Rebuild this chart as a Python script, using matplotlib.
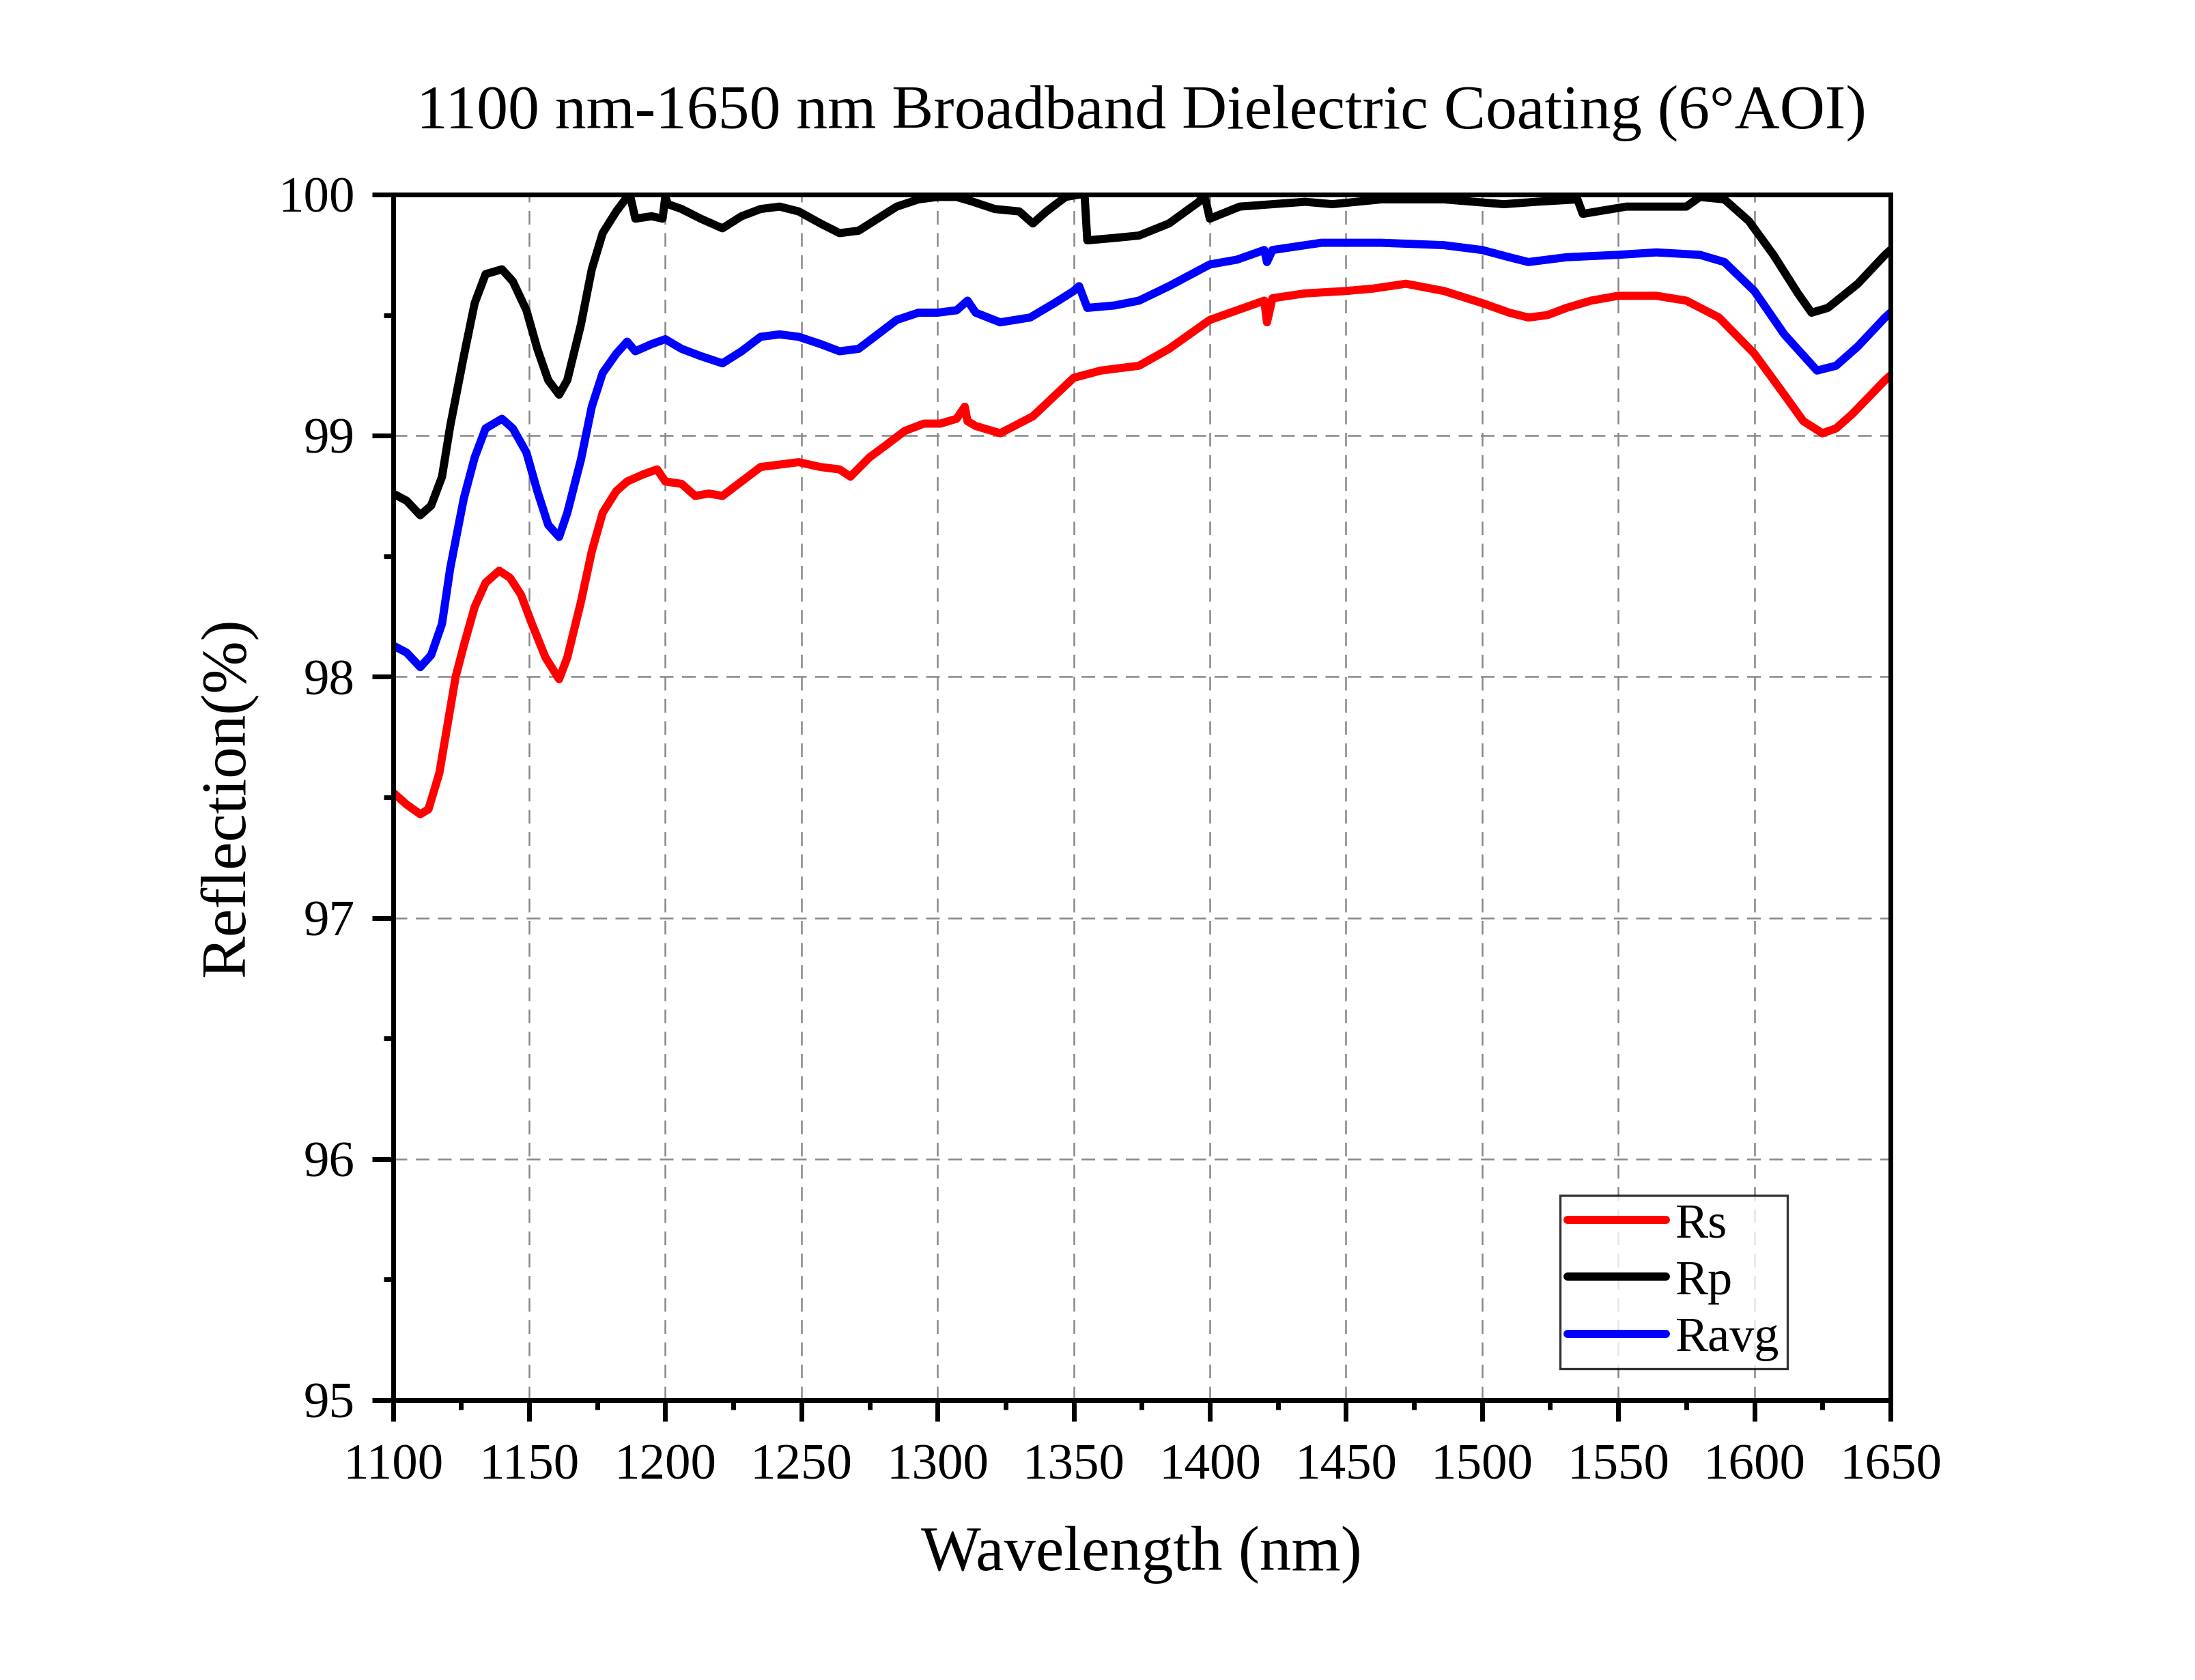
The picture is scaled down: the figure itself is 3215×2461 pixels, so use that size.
import matplotlib
matplotlib.use("Agg")
import matplotlib.pyplot as plt
from matplotlib.ticker import MultipleLocator

plt.rcParams['font.family'] = ['Liberation Serif', 'DejaVu Serif']

# data (wavelength in nm, reflection in %)
wl_rs = [1100, 1105, 1110, 1113, 1117, 1120, 1123, 1126, 1130, 1134, 1139, 1143, 1147,
         1151, 1156, 1161, 1164, 1169, 1173, 1177, 1182, 1186, 1192, 1197, 1200, 1206,
         1211, 1216, 1221, 1228, 1235, 1242, 1249, 1257, 1264, 1268, 1275, 1281, 1288,
         1295, 1301, 1307, 1310, 1311, 1314, 1323, 1335, 1350, 1360, 1374, 1385, 1400,
         1410, 1420, 1421, 1423, 1435, 1450, 1460, 1472, 1486, 1500, 1510, 1517, 1524,
         1531, 1540, 1550, 1564, 1575, 1587, 1600, 1611, 1618, 1625, 1630, 1636, 1642,
         1648, 1650]
rs = [97.52, 97.47, 97.43, 97.45, 97.60, 97.80, 98.00, 98.13, 98.29, 98.39, 98.44,
      98.41, 98.34, 98.22, 98.08, 97.99, 98.08, 98.31, 98.52, 98.68, 98.77, 98.81,
      98.84, 98.86, 98.81, 98.80, 98.75, 98.76, 98.75, 98.81, 98.87, 98.88, 98.89,
      98.87, 98.86, 98.83, 98.91, 98.96, 99.02, 99.05, 99.05, 99.07, 99.12, 99.06,
      99.04, 99.01, 99.08, 99.24, 99.27, 99.29, 99.36, 99.48, 99.52, 99.56, 99.47,
      99.57, 99.59, 99.60, 99.61, 99.63, 99.60, 99.55, 99.51, 99.49, 99.50, 99.53,
      99.56, 99.58, 99.58, 99.56, 99.49, 99.34, 99.17, 99.06, 99.01, 99.03, 99.09,
      99.16, 99.23, 99.25]

wl_rp = [1100, 1105, 1110, 1114, 1118, 1121, 1126, 1130, 1134, 1140, 1144, 1149, 1153,
         1157, 1161, 1164, 1169, 1173, 1177, 1182, 1186, 1187, 1189, 1195, 1199, 1200,
         1201, 1206, 1213, 1221, 1228, 1235, 1242, 1249, 1257, 1264, 1271, 1278, 1285,
         1293, 1300, 1307, 1313, 1321, 1330, 1335, 1340, 1347, 1352, 1354, 1355, 1365,
         1374, 1385, 1396, 1398, 1400, 1411, 1423, 1435, 1445, 1463, 1486, 1508, 1520,
         1535, 1537, 1553, 1575, 1580, 1589, 1598, 1607, 1616, 1621, 1627, 1638, 1648,
         1650]
rp = [98.76, 98.73, 98.67, 98.71, 98.83, 99.04, 99.33, 99.55, 99.67, 99.69, 99.64,
      99.52, 99.36, 99.23, 99.17, 99.23, 99.46, 99.69, 99.84, 99.93, 99.99, 100.00,
      99.90, 99.91, 99.90, 99.99, 99.96, 99.94, 99.90, 99.86, 99.91, 99.94, 99.95,
      99.93, 99.88, 99.84, 99.85, 99.90, 99.95, 99.98, 99.99, 99.99, 99.97, 99.94,
      99.93, 99.88, 99.93, 99.99, 100.00, 100.00, 99.81, 99.82, 99.83, 99.88, 99.97,
      100.00, 99.90, 99.95, 99.96, 99.97, 99.96, 99.98, 99.98, 99.96, 99.97, 99.98,
      99.92, 99.95, 99.95, 99.99, 99.98, 99.89, 99.75, 99.59, 99.51, 99.53, 99.63,
      99.75, 99.77]

wl_ravg = [1100, 1105, 1110, 1114, 1118, 1121, 1126, 1130, 1134, 1140, 1144, 1149, 1153,
           1157, 1161, 1164, 1169, 1173, 1177, 1182, 1186, 1189, 1195, 1200, 1206, 1213,
           1221, 1228, 1235, 1242, 1249, 1257, 1264, 1271, 1278, 1285, 1293, 1300, 1307,
           1311, 1314, 1323, 1334, 1343, 1350, 1352, 1355, 1365, 1374, 1385, 1400, 1410,
           1420, 1421, 1423, 1441, 1463, 1486, 1500, 1510, 1517, 1531, 1550, 1564, 1580,
           1589, 1600, 1611, 1623, 1630, 1638, 1648, 1650]
ravg = [98.13, 98.10, 98.04, 98.09, 98.22, 98.45, 98.74, 98.91, 99.03, 99.07, 99.03,
        98.93, 98.77, 98.63, 98.58, 98.68, 98.90, 99.12, 99.26, 99.34, 99.39, 99.35,
        99.38, 99.40, 99.36, 99.33, 99.30, 99.35, 99.41, 99.42, 99.41, 99.38, 99.35,
        99.36, 99.42, 99.48, 99.51, 99.51, 99.52, 99.56, 99.51, 99.47, 99.49, 99.55,
        99.60, 99.62, 99.53, 99.54, 99.56, 99.62, 99.71, 99.73, 99.77, 99.72, 99.77,
        99.80, 99.80, 99.79, 99.77, 99.74, 99.72, 99.74, 99.75, 99.76, 99.75, 99.72,
        99.60, 99.42, 99.27, 99.29, 99.37, 99.49, 99.51]

x_ticks = [1100, 1150, 1200, 1250, 1300, 1350, 1400, 1450, 1500, 1550, 1600, 1650]
y_ticks = [95, 96, 97, 98, 99, 100]

fig = plt.figure(figsize=(16.08, 12.305), dpi=200)
ax = fig.add_axes([0.179, 0.1666, 0.682, 0.7176])

ax.plot(wl_rs, rs, color='#ff0000', lw=4.3, label='Rs', solid_capstyle='round')
ax.plot(wl_rp, rp, color='black', lw=4.3, label='Rp', solid_capstyle='round')
ax.plot(wl_ravg, ravg, color='#0000ff', lw=4.3, label='Ravg', solid_capstyle='round')

ax.set_xlim(1100, 1650)
ax.set_ylim(95, 100)
ax.set_xticks(x_ticks)
ax.set_yticks(y_ticks)
ax.xaxis.set_minor_locator(MultipleLocator(25))
ax.yaxis.set_minor_locator(MultipleLocator(0.5))
ax.tick_params(which='major', direction='out', length=11, width=2.5, labelsize=27, pad=9)
ax.tick_params(axis='x', which='major', pad=12)
ax.tick_params(which='minor', direction='out', length=5, width=2.5)
for s in ax.spines.values():
    s.set_linewidth(2.5)

ax.grid(True, which='major', color='#888888', lw=0.9, linestyle=(0, (8, 5)))
ax.set_axisbelow(True)

ax.set_xlabel('Wavelength (nm)', fontsize=33.5, labelpad=19)
ax.set_ylabel('Reflection(%)', fontsize=33.5, labelpad=11)
ax.set_title('1100 nm-1650 nm Broadband Dielectric Coating (6\u00b0AOI)', fontsize=33, pad=35)

leg = ax.legend(loc='lower right', bbox_to_anchor=(0.931, 0.026), fontsize=26,
                frameon=True, fancybox=False, edgecolor='black', handlelength=2.0,
                handletextpad=0.2, borderpad=0.15, labelspacing=0.25, borderaxespad=0)
leg.get_frame().set_linewidth(1.2)

plt.savefig("out.png", dpi=200)
